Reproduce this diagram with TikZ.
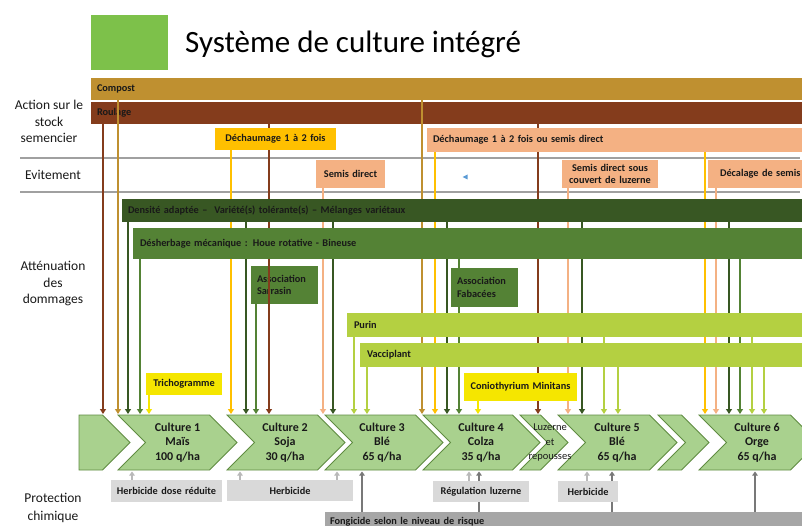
\documentclass[tikz,border=0pt]{standalone}
\usepackage{fontspec}
\setmainfont{Carlito}
\usetikzlibrary{arrows.meta}
\definecolor{compostc}{RGB}{191,144,48}
\definecolor{roulagec}{RGB}{132,60,28}
\definecolor{dechc}{RGB}{255,192,0}
\definecolor{salmonc}{RGB}{244,177,131}
\definecolor{dkgreen}{RGB}{56,87,35}
\definecolor{mdgreen}{RGB}{84,130,53}
\definecolor{limec}{RGB}{180,208,65}
\definecolor{byellow}{RGB}{245,230,0}
\definecolor{chevfill}{RGB}{169,209,142}
\definecolor{chevdraw}{RGB}{96,140,66}
\definecolor{lgray}{RGB}{217,217,217}
\definecolor{fgray}{RGB}{166,166,166}
\definecolor{uplight}{RGB}{185,185,185}
\definecolor{updark}{RGB}{120,120,120}
\definecolor{titlegreen}{RGB}{125,193,74}
\definecolor{txt}{RGB}{25,25,25}
\definecolor{sepgray}{RGB}{160,160,160}
\definecolor{bluetri}{RGB}{91,155,213}
\pgfdeclarelayer{lines}
\pgfdeclarelayer{top}
\pgfsetlayers{main,lines,top}
\newcommand\mkbox[8]{%
  \pgfmathsetmacro\mybw{#5-#3}\pgfmathsetmacro\mytw{#5-#3-2*#7}\pgfmathsetmacro\mybh{#6-#4}%
  \node[#2, anchor=north west, minimum width=\mybw pt, minimum height=\mybh pt,
        text width=\mytw pt, inner xsep=#7pt, inner ysep=0pt, outer sep=0pt] (#1) at (#3,#4) {#8};}
\newcommand\chev[2]{\path[chevsty] (#1,415) -- ({#2-27.5},415) -- (#2,442.5) -- ({#2-27.5},470) -- (#1,470) -- ({#1+27.5},442.5) -- cycle;}
\newcommand\darr[3]{\draw[dnarr,color=#1] (#2.south -| #3,0) -- (rowtop -| #3,0);}
\newcommand\uarr[3]{\draw[uparr,color=#1] (#2.north -| #3,0) -- (rowbot -| #3,0);}
\begin{document}
\begin{tikzpicture}[x=1pt,y=-1pt,
  bxl/.style={align=left, font=\bfseries\fontsize{10.3}{12.2}\selectfont, text=txt},
  bxc/.style={align=center, font=\bfseries\fontsize{10.3}{12.2}\selectfont, text=txt},
  lab/.style={align=center, font=\fontsize{13.5}{16.5}\selectfont, text=txt, inner sep=0pt},
  ctext/.style={align=center, font=\bfseries\fontsize{12}{14.5}\selectfont, text=txt, inner sep=0pt},
  chevsty/.style={fill=chevfill, draw=chevdraw, line width=0.8pt},
  dnarr/.style={-{Triangle[width=6pt,length=5pt]}, line width=1.8pt},
  uparr/.style={-{Triangle[width=5.5pt,length=4pt]}, line width=1.4pt},
  sepline/.style={draw=sepgray, line width=1.6pt}]
\useasboundingbox (0,0) rectangle (802,526);
\fill[white] (0,0) rectangle (802,526);
\coordinate (rowtop) at (0,414);
\coordinate (rowbot) at (0,471.5);

% title
\node[fill=titlegreen, minimum width=77pt, minimum height=55pt, anchor=north west, inner sep=0pt] (logo) at (91,15) {};
\node[anchor=base west, font=\fontsize{31}{36}\selectfont, inner sep=0pt, text=black] (title) at (185,53) {Système de culture intégré};

% left labels
\node[lab] (l1) at (49,121.5) {Action sur le\\stock\\semencier};
\node[lab] (l2) at (53,175) {Evitement};
\node[lab] (l3) at (53,283.5) {Atténuation\\des\\dommages};
\node[lab, font=\fontsize{13.5}{18}\selectfont] (l4) at (53,508) {Protection\\chimique};

% separators
\draw[sepline] (20,158) -- (800,158);
\draw[sepline] (20,192) -- (800,192);

% upper bars
\mkbox{compost}{bxl,fill=compostc}{91}{78}{803}{100}{6}{Compost}
\mkbox{roulage}{bxl,fill=roulagec}{91}{102}{803}{124}{6}{Roulage}
\mkbox{sarrasin}{bxl,fill=mdgreen}{251}{266}{318}{304}{6}{Association\\Sarrasin}
\fill[bluetri] (462.5,177) -- (467.5,174.5) -- (467.5,179.5) -- cycle;

% chevrons
\path[chevsty] (79,415) -- (102.5,415) -- (130,442.5) -- (102.5,470) -- (79,470) -- cycle;
\chev{118}{237}
\chev{227}{345}
\chev{325}{443}
\chev{423}{540}
\chev{520}{568}
\chev{558}{677}
\chev{658}{709}
\chev{699}{818}
\node[ctext] (c1) at (177.5,442.5) {Culture 1\\Maïs\\100 q/ha};
\node[ctext] (c2) at (285,442.5) {Culture 2\\Soja\\30 q/ha};
\node[ctext] (c3) at (382,442.5) {Culture 3\\Blé\\65 q/ha};
\node[ctext] (c4) at (481,442.5) {Culture 4\\Colza\\35 q/ha};
\node[align=center, font=\fontsize{10.5}{14.5}\selectfont, text=txt, inner sep=0pt] (luz) at (550,442.5) {Luzerne\\et\\repousses};
\node[ctext] (c5) at (617,442.5) {Culture 5\\Blé\\65 q/ha};
\node[ctext] (c6) at (757,442.5) {Culture 6\\Orge\\65 q/ha};

% top layer boxes
\begin{pgfonlayer}{top}
\mkbox{dech1}{bxc,fill=dechc}{215}{128}{336}{150}{4}{Déchaumage 1 à 2 fois}
\mkbox{dech2}{bxl,fill=salmonc}{427}{128}{803}{152}{6}{Déchaumage 1 à 2 fois ou semis direct}
\mkbox{semis1}{bxc,fill=salmonc}{316}{160}{385}{188}{2}{Semis direct}
\mkbox{semis2}{bxc,fill=salmonc}{562}{160}{658}{188}{2}{Semis direct sous\\couvert de luzerne}
\mkbox{decal}{bxl,fill=salmonc}{708}{160}{840}{188}{12}{Décalage de semis}
\mkbox{densite}{bxl,fill=dkgreen}{122}{199}{803}{222}{6}{Densité adaptée –~ Variété(s) tolérante(s) – Mélanges variétaux}
\mkbox{desherb}{bxl,fill=mdgreen}{133}{228}{803}{259}{7}{Désherbage mécanique : Houe rotative - Bineuse}
\mkbox{fabacees}{bxl,fill=mdgreen}{451}{268}{518}{307}{6}{Association\\Fabacées}
\mkbox{purin}{bxl,fill=limec}{347}{313}{803}{337}{7}{Purin}
\mkbox{vacci}{bxl,fill=limec}{360}{343}{803}{367}{7}{Vacciplant}
\mkbox{tricho}{bxc,fill=byellow}{146}{373}{222}{395}{2}{Trichogramme}
\mkbox{conio}{bxc,fill=byellow}{464}{373}{577}{401}{2}{Coniothyrium Minitans}
\mkbox{herb1}{bxc,fill=lgray}{111}{480}{222}{502}{2}{Herbicide dose réduite}
\mkbox{herb2}{bxc,fill=lgray}{227}{480}{353}{501}{2}{Herbicide}
\mkbox{regul}{bxc,fill=lgray}{433}{481}{529}{502}{2}{Régulation luzerne}
\mkbox{herb3}{bxc,fill=lgray}{558}{481}{618}{502}{2}{Herbicide}
\end{pgfonlayer}
\mkbox{fongi}{bxl,fill=fgray}{325}{512}{803}{532}{5}{Fongicide selon le niveau de risque}

% connectors
\begin{pgfonlayer}{lines}
\darr{compostc}{compost}{118}
\darr{compostc}{compost}{422}
\darr{roulagec}{roulage}{103}
\darr{roulagec}{roulage}{269}
\darr{roulagec}{roulage}{538}
\darr{dechc}{dech1}{231}
\darr{dechc}{dech2}{435}
\darr{dechc}{dech2}{705}
\darr{salmonc}{semis1}{323}
\darr{salmonc}{semis2}{568}
\darr{salmonc}{decal}{716}
\darr{dkgreen}{densite}{128}
\darr{dkgreen}{densite}{246}
\darr{dkgreen}{densite}{333}
\darr{dkgreen}{densite}{447}
\darr{dkgreen}{densite}{582}
\darr{dkgreen}{densite}{729}
\darr{mdgreen}{desherb}{140}
\darr{mdgreen}{desherb}{459}
\darr{mdgreen}{desherb}{740}
\darr{mdgreen}{sarrasin}{256}
\darr{limec}{purin}{354}
\darr{limec}{purin}{604}
\darr{limec}{purin}{752}
\darr{limec}{vacci}{367}
\darr{limec}{vacci}{618}
\darr{limec}{vacci}{764}
\darr{byellow}{tricho}{149}
\darr{byellow}{conio}{478}
\uarr{uplight}{herb1}{132}
\uarr{uplight}{herb2}{240}
\uarr{uplight}{herb2}{337}
\uarr{uplight}{regul}{469}
\uarr{uplight}{herb3}{587}
\uarr{updark}{fongi}{362}
\uarr{updark}{fongi}{479}
\uarr{updark}{fongi}{612}
\uarr{updark}{fongi}{755}
\end{pgfonlayer}
\end{tikzpicture}
\end{document}
